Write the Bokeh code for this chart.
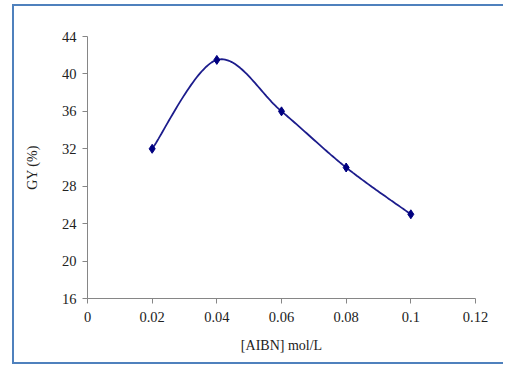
import numpy as np
from bokeh.plotting import figure
from bokeh.layouts import column
from bokeh.models import FixedTicker, Range1d
from bokeh.embed import file_html
from bokeh.resources import INLINE

# data
aibn = [0.02, 0.04, 0.06, 0.08, 0.10]
gy = [32.0, 41.5, 36.0, 30.0, 25.0]

x_ticks = [0, 0.02, 0.04, 0.06, 0.08, 0.1, 0.12]
x_tick_labels = ["0", "0.02", "0.04", "0.06", "0.08", "0.1", "0.12"]
y_ticks = [16, 20, 24, 28, 32, 36, 40, 44]
y_tick_labels = ["16", "20", "24", "28", "32", "36", "40", "44"]

x_title = "[AIBN] mol/L"
y_title = "GY (%)"


def smooth(xs, ys, steps=40):
    """Excel-like smoothed line (Catmull-Rom / cubic Bezier) through points."""
    px = [xs[0]] + list(xs) + [xs[-1]]
    py = [ys[0]] + list(ys) + [ys[-1]]
    ox, oy = [], []
    for i in range(1, len(px) - 2):
        p0 = np.array([px[i - 1], py[i - 1]])
        p1 = np.array([px[i], py[i]])
        p2 = np.array([px[i + 1], py[i + 1]])
        p3 = np.array([px[i + 2], py[i + 2]])
        c1 = p1 + (p2 - p0) / 6.0
        c2 = p2 - (p3 - p1) / 6.0
        t = np.linspace(0, 1, steps)[:, None]
        b = ((1 - t) ** 3) * p1 + 3 * ((1 - t) ** 2) * t * c1 + 3 * (1 - t) * t ** 2 * c2 + t ** 3 * p2
        ox.extend(b[:, 0])
        oy.extend(b[:, 1])
    return ox, oy


sx, sy = smooth(aibn, gy)

font = "Liberation Serif"
axis_col = "#868686"

p = figure(width=491, height=360, output_backend="svg", toolbar_location=None,
           x_range=Range1d(0, 0.12), y_range=Range1d(16, 44),
           min_border_left=73, min_border_right=30, min_border_top=30, min_border_bottom=68)
p.styles = {"border-left": "2px solid #4F81BD", "border-top": "2px solid #4F81BD",
            "border-bottom": "2px solid #4F81BD"}
p.outline_line_color = None
p.xgrid.visible = False
p.ygrid.visible = False
p.background_fill_color = "white"
p.border_fill_color = "white"

p.line(sx, sy, line_color="#1C1C8C", line_width=1.8)
p.scatter(aibn, gy, marker="diamond", size=9, fill_color="#000080", line_color="#000080")

for ax in (p.xaxis[0], p.yaxis[0]):
    ax.axis_line_color = axis_col
    ax.axis_line_width = 1
    ax.major_tick_line_color = axis_col
    ax.major_tick_in = 0
    ax.major_tick_out = 5
    ax.minor_tick_line_color = None
    ax.major_label_text_font = font
    ax.major_label_text_font_size = "14.5px"
    ax.major_label_text_color = "#222222"
    ax.axis_label_text_font = font
    ax.axis_label_text_font_size = "14px"
    ax.axis_label_text_font_style = "normal"
    ax.axis_label_text_color = "#222222"

p.xaxis[0].ticker = FixedTicker(ticks=x_ticks)
p.xaxis[0].major_label_overrides = {t: l for t, l in zip(x_ticks, x_tick_labels)}
p.xaxis[0].axis_label = x_title
p.xaxis[0].major_label_standoff = 8
p.xaxis[0].axis_label_standoff = 13

p.yaxis[0].ticker = FixedTicker(ticks=y_ticks)
p.yaxis[0].major_label_overrides = {t: l for t, l in zip(y_ticks, y_tick_labels)}
p.yaxis[0].axis_label = y_title
p.yaxis[0].major_label_standoff = 6
p.yaxis[0].axis_label_standoff = 19

layout = column(p, styles={"padding": "4px 0px 4px 12px", "background-color": "white"})

open("out.html", "w").write(file_html(layout, INLINE))
